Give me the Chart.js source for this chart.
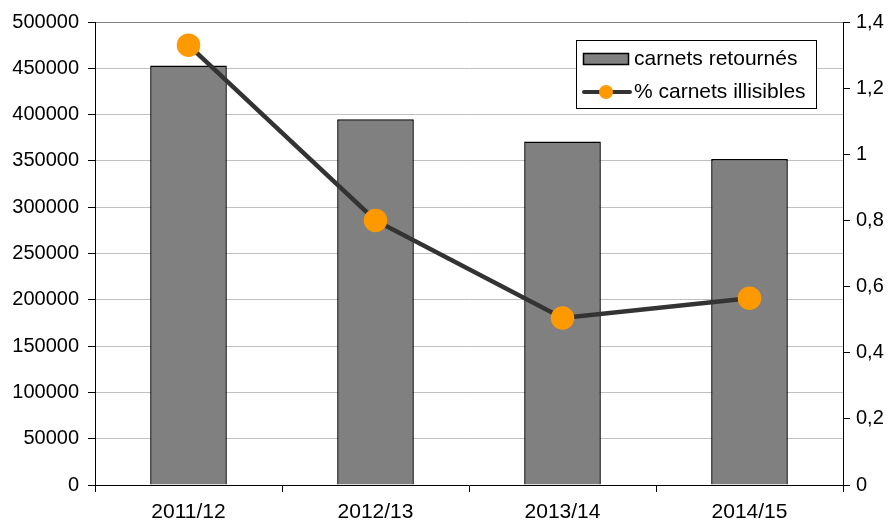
<!DOCTYPE html>
<html><head><meta charset="utf-8">
<script src="https://cdn.jsdelivr.net/npm/chart.js@4.4.0/dist/chart.umd.min.js"></script>
<style>html,body{margin:0;padding:0;background:#fff;}canvas{display:block;}</style>
</head><body>
<canvas id="c" width="891" height="528"></canvas>
<script>
const categories = ['2011/12','2012/13','2013/14','2014/15'];
const carnetsRetournes = [453000, 395000, 371000, 352000];
const pctIllisibles = [1.33, 0.80, 0.505, 0.565];
const leftTicks = [0,50000,100000,150000,200000,250000,300000,350000,400000,450000,500000];
const rightTicks = [0,0.2,0.4,0.6,0.8,1,1.2,1.4];

const FONT = "'Liberation Sans', Arial, sans-serif";

const legendBox = {
  id: 'legendBox',
  afterDraw(chart) {
    const ctx = chart.ctx;
    const bar = chart.data.datasets.find(d => d.type === 'bar');
    const line = chart.data.datasets.find(d => d.type === 'line');
    ctx.save();
    ctx.fillStyle = '#fff';
    ctx.fillRect(576.5, 40.5, 240, 68);
    ctx.strokeStyle = '#000';
    ctx.lineWidth = 1;
    ctx.strokeRect(576.5, 40.5, 240, 68);
    ctx.fillStyle = bar.backgroundColor;
    ctx.fillRect(583.5, 53.5, 45, 11);
    ctx.strokeStyle = '#000';
    ctx.lineWidth = 1.5;
    ctx.strokeRect(583.5, 53.5, 45, 11);
    ctx.strokeStyle = line.borderColor;
    ctx.lineWidth = 4;
    ctx.lineCap = 'round';
    ctx.beginPath(); ctx.moveTo(584, 92); ctx.lineTo(630, 92); ctx.stroke();
    ctx.fillStyle = line.pointBackgroundColor;
    ctx.beginPath(); ctx.arc(606, 92, 7, 0, Math.PI*2); ctx.fill();
    ctx.fillStyle = '#000';
    ctx.font = '21px ' + FONT;
    ctx.textBaseline = 'middle';
    ctx.textAlign = 'left';
    ctx.fillText(bar.label, 634, 59);
    ctx.fillText(line.label, 634, 92);
    ctx.restore();
  }
};

new Chart(document.getElementById('c'), {
  data: {
    labels: categories,
    datasets: [
      {
        type: 'line', label: '% carnets illisibles', data: pctIllisibles, yAxisID: 'y2',
        borderColor: '#333333', borderWidth: 4.5, pointBackgroundColor: '#FF9900',
        pointBorderColor: '#FF9900', pointRadius: 9.5, pointHoverRadius: 9.5, tension: 0, order: 0
      },
      {
        type: 'bar', label: 'carnets retournés', data: carnetsRetournes, yAxisID: 'y',
        backgroundColor: '#808080', borderColor: '#000', borderWidth: 1.5,
        barPercentage: 0.41, categoryPercentage: 1, order: 1
      }
    ]
  },
  options: {
    responsive: false, animation: false, devicePixelRatio: 1,
    layout: { padding: { top: 22, left: 0, right: 0, bottom: 0 } },
    plugins: { legend: { display: false }, tooltip: { enabled: false } },
    scales: {
      x: {
        offset: true,
        grid: { offset: true, drawOnChartArea: false, drawTicks: true, tickLength: 7, color: '#000' },
        border: { color: '#000', width: 1 },
        ticks: { color: '#000', font: { family: FONT, size: 21 }, padding: 8, maxRotation: 0 },
        afterFit(s) { s.height = 43; }
      },
      y: {
        position: 'left', min: 0, max: 500000,
        afterBuildTicks(s) { s.ticks = leftTicks.map(v => ({ value: v })); },
        grid: {
          color: ctx => ctx.tick && ctx.tick.value === 500000 ? '#808080' : '#c0c0c0',
          tickColor: '#000', tickLength: 7, lineWidth: 1
        },
        border: { color: '#000', width: 1 },
        ticks: { color: '#000', font: { family: FONT, size: 20 }, padding: 9,
          callback: v => String(v) },
        afterFit(s) { s.width = 95; }
      },
      y2: {
        position: 'right', min: 0, max: 1.4,
        afterBuildTicks(s) { s.ticks = rightTicks.map(v => ({ value: v })); },
        grid: { drawOnChartArea: false, tickColor: '#000', tickLength: 7 },
        border: { color: '#000', width: 1 },
        ticks: { color: '#000', font: { family: FONT, size: 20 }, padding: 6,
          callback: v => String(Math.round(v * 10) / 10).replace('.', ',') },
        afterFit(s) { s.width = 48; }
      }
    }
  },
  plugins: [legendBox]
});
</script>
</body></html>
